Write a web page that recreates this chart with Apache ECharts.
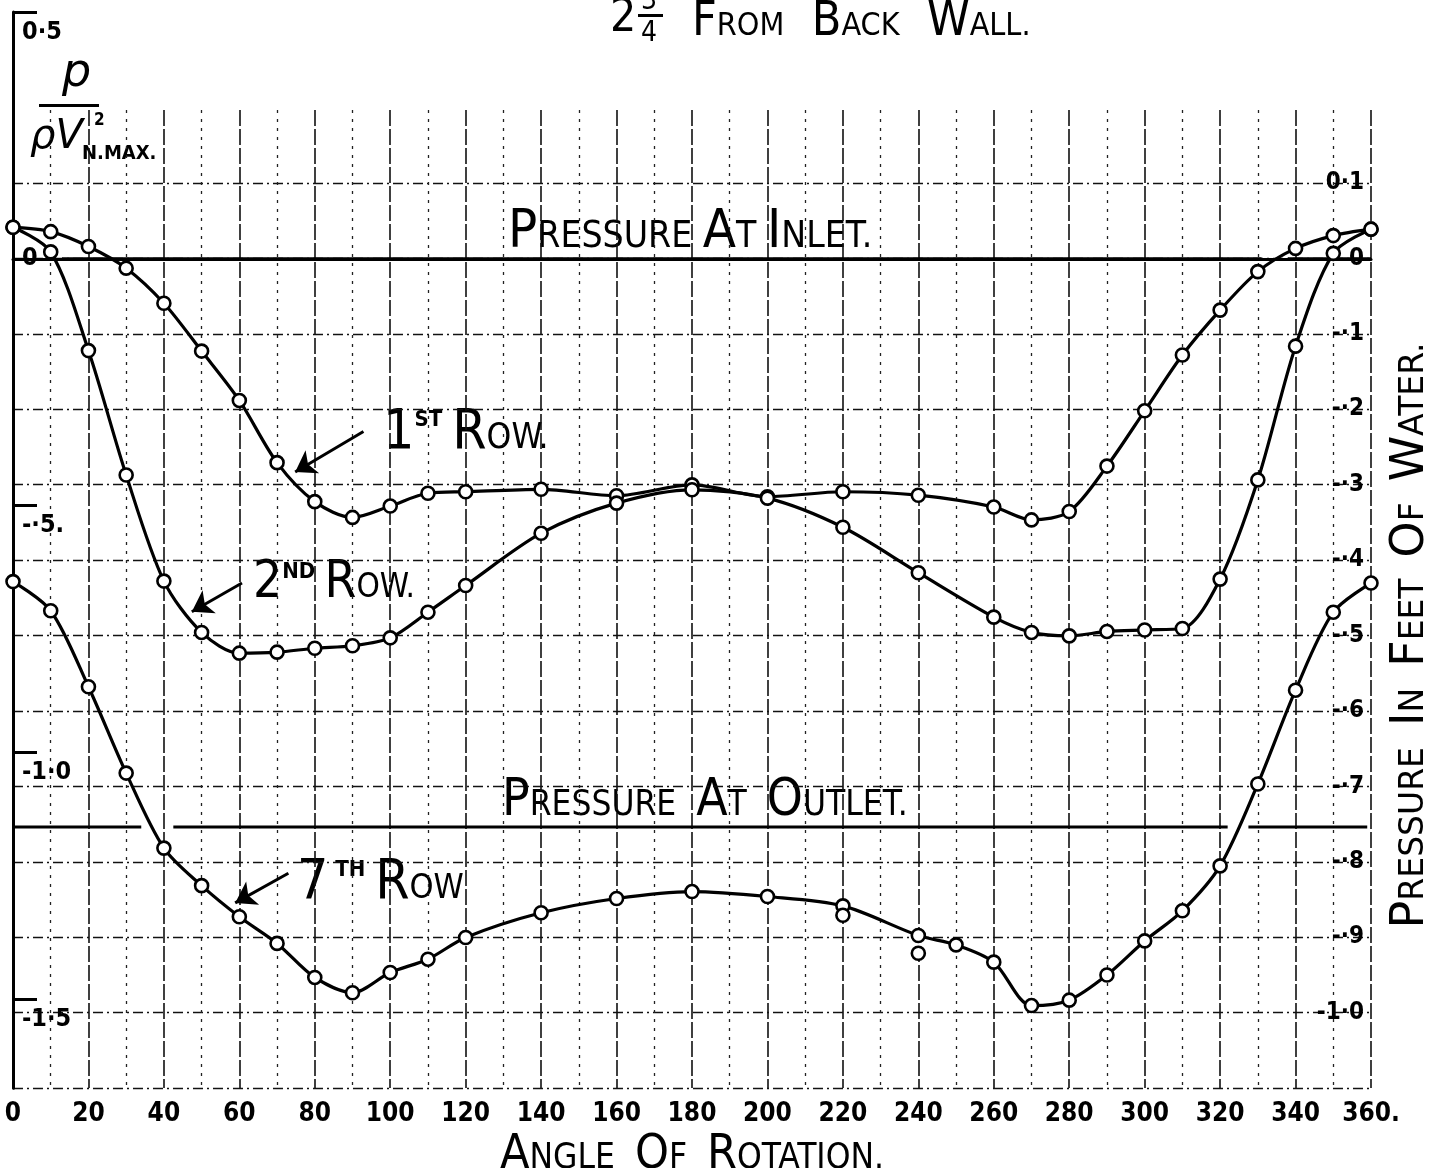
<!DOCTYPE html>
<html>
<head>
<meta charset="utf-8">
<script src="https://cdn.jsdelivr.net/npm/echarts@6/dist/echarts.min.js"></script>
<style>
  html, body { margin: 0; padding: 0; background: #fff; }
  #chart { width: 1431px; height: 1168px; }
</style>
</head>
<body>
<div id="chart"></div>
<script>
// Angles of rotation (degrees) at which readings were taken
const ANGLES_ROWS_1_2 = [0, 10, 20, 30, 40, 50, 60, 70, 80, 90, 100, 110, 120, 140, 160, 180, 200, 220, 240, 260, 270, 280, 290, 300, 310, 320, 330, 340, 350, 360];
const ANGLES_ROW_7 = [0, 10, 20, 30, 40, 50, 60, 70, 80, 90, 100, 110, 120, 140, 160, 180, 200, 220, 240, 250, 260, 270, 280, 290, 300, 310, 320, 330, 340, 350, 360];

// Pressure coefficient p / (rho V^2 N.MAX) for each row of tubes
const ROW_1 = [0.064, 0.055, 0.025, -0.019, -0.090, -0.187, -0.287, -0.413, -0.492, -0.524, -0.501, -0.475, -0.472, -0.467, -0.480, -0.458, -0.482, -0.472, -0.479, -0.503, -0.529, -0.512, -0.420, -0.308, -0.195, -0.104, -0.026, 0.021, 0.047, 0.060];
const ROW_2 = [0.064, 0.014, -0.186, -0.438, -0.653, -0.757, -0.799, -0.797, -0.789, -0.784, -0.768, -0.716, -0.662, -0.556, -0.495, -0.468, -0.485, -0.544, -0.636, -0.726, -0.757, -0.764, -0.755, -0.752, -0.749, -0.649, -0.448, -0.177, 0.011, 0.060];
const ROW_7 = [-0.654, -0.713, -0.867, -1.042, -1.194, -1.270, -1.333, -1.387, -1.456, -1.487, -1.446, -1.419, -1.375, -1.325, -1.296, -1.282, -1.292, -1.311, -1.371, -1.390, -1.425, -1.513, -1.502, -1.451, -1.382, -1.321, -1.230, -1.064, -0.874, -0.716, -0.657];

// Second readings taken on the 7th row
const ROW_7_REPEAT_ANGLES = [220, 240];
const ROW_7_REPEAT = [-1.330, -1.407];

// Reference pressure levels (same units as the rows)
const INLET_LEVEL = 0;
const OUTLET_LEVEL = -1.151;
// Angle spans over which the reference lines are ruled
const INLET_SPANS = [[13, 331], [338, 360]];
const OUTLET_SPANS = [[0, 34], [42.5, 322], [327.5, 359]];

// Tick values
const X_TICKS = [0, 20, 40, 60, 80, 100, 120, 140, 160, 180, 200, 220, 240, 260, 280, 300, 320, 340, 360];
const LEFT_TICKS = [0.5, 0, -0.5, -1.0, -1.5];
const RIGHT_TICKS = [0.1, 0, -0.1, -0.2, -0.3, -0.4, -0.5, -0.6, -0.7, -0.8, -0.9, -1.0];

const LETTER = "'DejaVu Sans Condensed','Liberation Sans Narrow','DejaVu Sans',sans-serif";
const WIDE = "'DejaVu Sans',sans-serif";
const FIG = "'Liberation Sans Narrow','DejaVu Sans Condensed','DejaVu Sans',sans-serif";
const INK = '#000';
const DESC = 0.236; // descender share of the em box, used to sit mixed sizes on one baseline

// Small-capitals lettering: first letter of each word large, the rest small
function capsText(text, gap) {
  const sp = ' '.repeat(gap || 1);
  return text.split(' ').map(w => '{B|' + w[0] + '}' + (w.length > 1 ? '{s|' + w.slice(1) + '}' : '')).join('{s|' + sp + '}');
}
function tok(size, family, extra) {
  return Object.assign({ fontSize: size, lineHeight: Math.round(size * 0.95), verticalAlign: 'bottom', fontFamily: family || LETTER, color: INK }, extra || {});
}
function lift(big, small) { return Math.round(DESC * (big - small)); }
function capsRich(big, small, family) {
  return { B: tok(big, family), s: tok(small, family, { padding: [0, 0, lift(big, small), 0] }) };
}
function rowRich(big, small, sup) {
  return {
    B: tok(big),
    s: tok(small, LETTER, { padding: [0, 0, lift(big, small), 0] }),
    sup: tok(sup, LETTER, { verticalAlign: 'top', fontWeight: 'bold' })
  };
}
// Lettering placed by its left end and the baseline of its large letters
function letters(x, baseline, text, rich, big) {
  return {
    type: 'text', x: x, y: baseline + DESC * big, silent: true,
    style: { text: text, rich: rich, fill: INK, align: 'left', verticalAlign: 'bottom', textAlign: 'left', textVerticalAlign: 'bottom' }
  };
}
function plain(x, y, text, size, family, extraStyle) {
  return {
    type: 'text', x: x, y: y, silent: true,
    style: Object.assign({ text: text, fontSize: size, lineHeight: Math.round(size * 0.69), fontFamily: family, fill: INK,
      align: 'left', verticalAlign: 'bottom', textAlign: 'left', textVerticalAlign: 'bottom' }, extraStyle || {})
  };
}

function pairs(xs, ys) { return xs.map((x, i) => [x, ys[i]]); }
function spans(list, level) {
  const out = [];
  list.forEach(([a, b]) => { out.push([a, level], [b, level], [b, '-']); });
  return out;
}

const markerStyle = { color: '#fff', borderColor: INK, borderWidth: 2.6, opacity: 1 };
const arrowLine = { color: INK, width: 3, type: 'solid' };

function rowSeries(name, xs, ys, arrowFrom, arrowTo) {
  return {
    name: name, type: 'line', xAxisIndex: 0, yAxisIndex: 0,
    data: pairs(xs, ys), smooth: 0.3,
    symbol: 'circle', symbolSize: 13, itemStyle: markerStyle,
    lineStyle: { color: INK, width: 3.2 }, z: 5,
    markLine: {
      silent: true, symbol: ['none', 'arrow'], symbolSize: 20,
      lineStyle: arrowLine, label: { show: false },
      data: [[{ coord: arrowFrom }, { coord: arrowTo }]]
    }
  };
}

function leftLabel(v) {
  const r = Math.round(v * 10);
  const t = { 5: '0·5', 0: '0', '-5': '-·5.', '-10': '-1·0', '-15': '-1·5' }[r];
  return r === 0 ? t : '\n' + t;
}
function rightLabel(v) {
  const n = Math.round(v * 10);
  if (n === 1) return '0·1';
  if (n === 0) return '0';
  if (n === -10) return '-1·0';
  return '-·' + (-n);
}

const GRID_SIDE = { left: 13, right: 60, bottom: 80, outerBoundsMode: 'none', containLabel: false };

const option = {
  animation: false,
  backgroundColor: '#fff',
  grid: [
    Object.assign({ top: 12 }, GRID_SIDE),   // plotted readings, left scale
    Object.assign({ top: 110 }, GRID_SIDE),  // ruled verticals
    Object.assign({ top: 183 }, GRID_SIDE)   // feet-of-water scale and ruled horizontals
  ],
  xAxis: [
    {
      gridIndex: 0, type: 'value', min: 0, max: 360, interval: 20,
      axisLine: { show: true, lineStyle: { color: INK, width: 3 } },
      axisTick: { show: false },
      splitLine: { show: false },
      axisLabel: {
        color: INK, fontFamily: FIG, fontWeight: 'bold', fontSize: 26, margin: 13,
        customValues: X_TICKS,
        formatter: v => (v === 360 ? '360.' : String(v))
      },
      name: capsText('ANGLE OF ROTATION.', 2), nameLocation: 'middle', nameGap: 42,
      nameTextStyle: { rich: capsRich(48, 35) }
    },
    {
      gridIndex: 1, type: 'value', min: 0, max: 360, interval: 20,
      axisLine: { show: false }, axisTick: { show: false }, axisLabel: { show: false },
      splitLine: { show: true, lineStyle: { color: '#111', width: 1.6, type: [16, 3] } },
      minorTick: { show: false, splitNumber: 2 },
      minorSplitLine: { show: true, lineStyle: { color: '#222', width: 1.3, type: [3, 6] } }
    },
    {
      gridIndex: 2, type: 'value', min: 0, max: 360, show: false
    }
  ],
  yAxis: [
    {
      gridIndex: 0, type: 'value', min: -1.68, max: 0.5, position: 'left',
      axisLine: { show: true, lineStyle: { color: INK, width: 3 } },
      axisTick: { show: true, inside: true, length: 24, lineStyle: { color: INK, width: 3 }, customValues: [0.5, -0.5, -1.0, -1.5] },
      axisLabel: {
        inside: true, margin: 9, color: INK, fontFamily: FIG, fontWeight: 'bold', fontSize: 25, lineHeight: 40,
        customValues: LEFT_TICKS, formatter: leftLabel
      },
      splitLine: { show: false }
    },
    { gridIndex: 1, type: 'value', min: 0, max: 1, show: false },
    {
      gridIndex: 2, type: 'value', min: -1.1, max: 0.1, interval: 0.1, position: 'right',
      axisLine: { show: true, lineStyle: { color: INK, width: 3 } },
      axisTick: { show: false },
      axisLabel: {
        inside: true, margin: 7, color: INK, fontFamily: FIG, fontWeight: 'bold', fontSize: 24,
        customValues: RIGHT_TICKS, formatter: rightLabel
      },
      splitLine: { show: true, lineStyle: { color: '#111', width: 1.4, type: [10, 4, 2, 4] } },
      name: capsText('PRESSURE IN FEET OF WATER.', 2), nameLocation: 'middle', nameRotate: 90, nameGap: 19,
      nameTextStyle: { rich: capsRich(46, 33, WIDE) }
    }
  ],
  series: [
    {
      name: 'Pressure at inlet', type: 'line', xAxisIndex: 0, yAxisIndex: 0,
      data: spans(INLET_SPANS, INLET_LEVEL), symbol: 'none', connectNulls: false,
      lineStyle: { color: INK, width: 3 }, z: 3, silent: true
    },
    {
      name: 'Pressure at outlet', type: 'line', xAxisIndex: 0, yAxisIndex: 0,
      data: spans(OUTLET_SPANS, OUTLET_LEVEL), symbol: 'none', connectNulls: false,
      lineStyle: { color: INK, width: 3 }, z: 3, silent: true
    },
    rowSeries('1st Row', ANGLES_ROWS_1_2, ROW_1, [92.9, -0.350], [74.8, -0.432]),
    rowSeries('2nd Row', ANGLES_ROWS_1_2, ROW_2, [60.7, -0.657], [47.4, -0.715]),
    rowSeries('7th Row', ANGLES_ROW_7, ROW_7, [73.0, -1.245], [58.9, -1.305]),
    {
      name: '7th Row repeat', type: 'scatter', xAxisIndex: 0, yAxisIndex: 0,
      data: pairs(ROW_7_REPEAT_ANGLES, ROW_7_REPEAT),
      symbol: 'circle', symbolSize: 13, itemStyle: markerStyle, z: 6
    }
  ],
  graphic: [
    // heading
    plain(610, 35, '2', 46, LETTER),
    plain(641, 11, '3', 28, LETTER),
    { type: 'rect', silent: true, shape: { x: 638, y: 14, width: 25, height: 3 }, style: { fill: INK } },
    plain(641, 43, '4', 28, LETTER),
    letters(692, 35, capsText('FROM BACK WALL.', 3), capsRich(48, 32), 48),
    // ordinate title  p / (rho V^2 N.MAX.)
    plain(62, 90, 'p', 46, WIDE, { fontStyle: 'italic' }),
    { type: 'rect', silent: true, shape: { x: 39, y: 104, width: 60, height: 3 }, style: { fill: INK } },
    plain(30, 152, 'ρV', 40, WIDE, { fontStyle: 'italic' }),
    plain(94, 127, '2', 17, FIG, { fontWeight: 'bold' }),
    plain(82, 161, 'N.MAX.', 20, FIG, { fontWeight: 'bold' }),
    // reference lines
    letters(508, 247, capsText('PRESSURE AT INLET.'), capsRich(54, 37), 54),
    letters(502, 815, capsText('PRESSURE AT OUTLET.', 2), capsRich(51, 35), 51),
    // row names
    letters(383, 448, '{B|1}{sup|ST}{s| }{B|R}{s|OW.}', rowRich(55, 35, 22), 55),
    letters(253, 597, '{B|2}{sup|ND}{s| }{B|R}{s|OW.}', rowRich(51, 33, 22), 51),
    letters(297, 898, '{B|7}{sup| TH}{s| }{B|R}{s|OW}', rowRich(55, 34, 22), 55)
  ]
};

const chart = echarts.init(document.getElementById('chart'), null, { renderer: 'canvas' });
chart.setOption(option);
</script>
</body>
</html>
